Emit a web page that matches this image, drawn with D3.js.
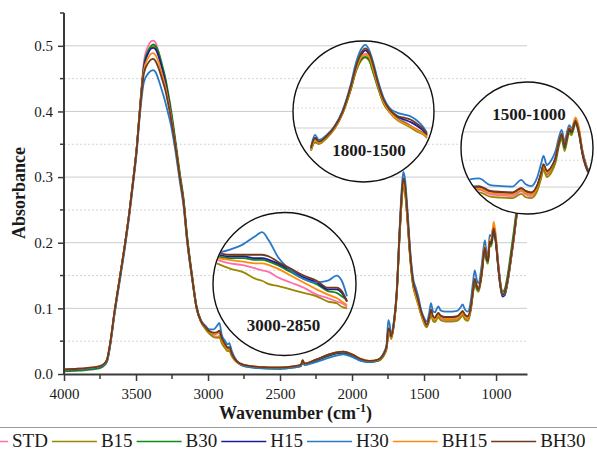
<!DOCTYPE html>
<html>
<head>
<meta charset="utf-8">
<script src="https://cdn.jsdelivr.net/npm/d3@7"></script>
<style>
  body { margin: 0; background: #fff; }
  text { font-family: "Liberation Serif", "Times New Roman", serif; fill: #1a1a1a; }
</style>
</head>
<body>
<svg id="chart" width="597" height="453"></svg>
<script>
// series + colours (legend order, also drawing order)
const seriesNames = ["STD", "B15", "B30", "H15", "H30", "BH15", "BH30"];
const seriesColors = ["#ff6fae", "#9a8700", "#128a12", "#1c1c9c", "#2878c8", "#ff8a10", "#70391c"];

// axis ticks
const xTicks = [4000, 3500, 3000, 2500, 2000, 1500, 1000];
const xMinor = [3750, 3250, 2750, 2250, 1750, 1250];
const yTicks = [0, 0.1, 0.2, 0.3, 0.4, 0.5];
const yMinor = [0.05, 0.15, 0.25, 0.35, 0.45, 0.55];

// main spectrum, wavenumber grid (cm-1)
const wn = [4000, 3900, 3800, 3750, 3720, 3700, 3680, 3650, 3610, 3575, 3545, 3520,
  3495, 3475, 3445, 3415, 3395, 3380, 3365, 3340, 3320, 3295, 3278, 3260, 3230, 3195, 3170, 3145, 3110, 3080, 3050,
  3020, 2990, 2960, 2935, 2921, 2905, 2880, 2865, 2852, 2835, 2800,
  2750, 2650, 2500, 2400, 2355, 2343, 2330, 2250, 2170, 2110, 2060, 2000, 1940, 1880, 1820, 1785,
  1760, 1748, 1738, 1728, 1710, 1690, 1670, 1655, 1644, 1632, 1615, 1595, 1575, 1555, 1540, 1520, 1500,
  1482, 1465, 1452, 1438, 1424, 1410, 1400, 1385, 1350, 1310, 1270, 1245, 1232, 1215, 1195, 1175, 1160, 1148, 1135, 1122,
  1100, 1078, 1065, 1056, 1044, 1034, 1016, 1000, 985, 970, 955, 940, 920, 900, 875, 850, 825, 800, 785];

const STD = [0.007, 0.008, 0.009, 0.011, 0.015, 0.022, 0.045, 0.093, 0.150, 0.200, 0.249, 0.296,
  0.345, 0.400, 0.476, 0.500, 0.507, 0.508, 0.505, 0.488, 0.470, 0.447, 0.425, 0.400, 0.355, 0.300, 0.262, 0.206, 0.146, 0.101, 0.080,
  0.070, 0.062, 0.058, 0.057, 0.058, 0.049, 0.040, 0.036, 0.036, 0.028, 0.018,
  0.013, 0.010, 0.009, 0.011, 0.013, 0.019, 0.015, 0.021, 0.028, 0.032, 0.033, 0.029, 0.022, 0.019, 0.021, 0.027,
  0.039, 0.062, 0.061, 0.054, 0.074, 0.120, 0.210, 0.266, 0.289, 0.279, 0.235, 0.175, 0.135, 0.119, 0.108, 0.092, 0.080,
  0.073, 0.082, 0.093, 0.083, 0.081, 0.086, 0.088, 0.084, 0.082, 0.082, 0.083, 0.088, 0.091, 0.085, 0.083, 0.099, 0.124, 0.141, 0.131, 0.127,
  0.151, 0.189, 0.173, 0.170, 0.198, 0.196, 0.218, 0.199, 0.164, 0.135, 0.121, 0.123, 0.142, 0.171, 0.211, 0.256, 0.296, 0.336, 0.356];
const B15 = [0.006, 0.007, 0.009, 0.011, 0.015, 0.022, 0.045, 0.093, 0.150, 0.200, 0.248, 0.295,
  0.345, 0.398, 0.468, 0.491, 0.498, 0.499, 0.497, 0.484, 0.467, 0.445, 0.424, 0.402, 0.357, 0.301, 0.264, 0.207, 0.147, 0.102, 0.080,
  0.069, 0.061, 0.056, 0.055, 0.056, 0.047, 0.039, 0.035, 0.035, 0.027, 0.018,
  0.013, 0.010, 0.009, 0.011, 0.013, 0.019, 0.015, 0.021, 0.028, 0.032, 0.033, 0.029, 0.022, 0.019, 0.020, 0.026,
  0.038, 0.060, 0.060, 0.053, 0.073, 0.118, 0.207, 0.263, 0.286, 0.276, 0.232, 0.172, 0.133, 0.116, 0.105, 0.090, 0.077,
  0.071, 0.080, 0.091, 0.081, 0.079, 0.084, 0.086, 0.082, 0.080, 0.080, 0.081, 0.086, 0.089, 0.083, 0.081, 0.097, 0.122, 0.139, 0.129, 0.125,
  0.149, 0.187, 0.171, 0.168, 0.196, 0.194, 0.216, 0.197, 0.163, 0.135, 0.121, 0.123, 0.142, 0.171, 0.211, 0.256, 0.296, 0.336, 0.356];
const B30 = [0.004, 0.005, 0.007, 0.009, 0.013, 0.020, 0.044, 0.092, 0.150, 0.200, 0.248, 0.295,
  0.345, 0.398, 0.470, 0.493, 0.500, 0.502, 0.500, 0.488, 0.472, 0.450, 0.430, 0.407, 0.362, 0.305, 0.268, 0.211, 0.150, 0.104, 0.082,
  0.072, 0.064, 0.061, 0.062, 0.064, 0.053, 0.043, 0.039, 0.039, 0.030, 0.019,
  0.012, 0.009, 0.008, 0.010, 0.012, 0.019, 0.014, 0.020, 0.027, 0.031, 0.032, 0.028, 0.021, 0.018, 0.020, 0.027,
  0.040, 0.063, 0.062, 0.055, 0.075, 0.120, 0.210, 0.265, 0.290, 0.280, 0.235, 0.175, 0.135, 0.118, 0.108, 0.092, 0.080,
  0.074, 0.083, 0.095, 0.085, 0.083, 0.088, 0.090, 0.086, 0.084, 0.084, 0.085, 0.090, 0.093, 0.087, 0.085, 0.100, 0.125, 0.142, 0.132, 0.128,
  0.152, 0.190, 0.174, 0.171, 0.199, 0.197, 0.220, 0.200, 0.167, 0.139, 0.125, 0.129, 0.150, 0.180, 0.220, 0.265, 0.305, 0.345, 0.365];
const H15 = [0.006, 0.007, 0.009, 0.011, 0.015, 0.022, 0.045, 0.093, 0.150, 0.200, 0.248, 0.294,
  0.344, 0.397, 0.467, 0.489, 0.496, 0.497, 0.495, 0.482, 0.466, 0.444, 0.423, 0.400, 0.356, 0.300, 0.263, 0.206, 0.147, 0.102, 0.081,
  0.072, 0.065, 0.062, 0.063, 0.065, 0.054, 0.044, 0.040, 0.040, 0.030, 0.019,
  0.013, 0.010, 0.009, 0.011, 0.013, 0.020, 0.015, 0.021, 0.028, 0.032, 0.033, 0.029, 0.022, 0.019, 0.021, 0.028,
  0.041, 0.068, 0.066, 0.057, 0.076, 0.122, 0.213, 0.271, 0.295, 0.285, 0.240, 0.178, 0.139, 0.122, 0.111, 0.094, 0.082,
  0.074, 0.084, 0.097, 0.087, 0.085, 0.090, 0.092, 0.088, 0.086, 0.086, 0.087, 0.092, 0.095, 0.089, 0.087, 0.102, 0.127, 0.144, 0.134, 0.129,
  0.154, 0.192, 0.176, 0.173, 0.201, 0.199, 0.220, 0.198, 0.162, 0.133, 0.118, 0.120, 0.139, 0.168, 0.208, 0.253, 0.293, 0.333, 0.353];
const H30 = [0.006, 0.007, 0.009, 0.011, 0.014, 0.020, 0.042, 0.089, 0.145, 0.195, 0.243, 0.289,
  0.338, 0.390, 0.445, 0.458, 0.462, 0.463, 0.460, 0.446, 0.432, 0.413, 0.398, 0.382, 0.345, 0.292, 0.256, 0.201, 0.144, 0.101, 0.082,
  0.074, 0.068, 0.068, 0.074, 0.078, 0.060, 0.050, 0.045, 0.047, 0.035, 0.020,
  0.012, 0.009, 0.008, 0.010, 0.012, 0.019, 0.014, 0.018, 0.024, 0.028, 0.030, 0.026, 0.020, 0.018, 0.021, 0.030,
  0.045, 0.082, 0.075, 0.060, 0.080, 0.126, 0.220, 0.282, 0.308, 0.297, 0.250, 0.186, 0.145, 0.130, 0.118, 0.098, 0.086,
  0.080, 0.092, 0.108, 0.096, 0.094, 0.100, 0.103, 0.097, 0.095, 0.095, 0.096, 0.102, 0.106, 0.098, 0.095, 0.112, 0.140, 0.158, 0.145, 0.138,
  0.165, 0.204, 0.185, 0.182, 0.212, 0.210, 0.226, 0.205, 0.170, 0.140, 0.120, 0.122, 0.140, 0.170, 0.210, 0.255, 0.295, 0.335, 0.355];
const BH15 = [0.007, 0.008, 0.010, 0.012, 0.016, 0.023, 0.046, 0.094, 0.151, 0.201, 0.249, 0.295,
  0.344, 0.397, 0.463, 0.482, 0.488, 0.489, 0.486, 0.473, 0.457, 0.437, 0.418, 0.397, 0.354, 0.299, 0.262, 0.205, 0.146, 0.101, 0.080,
  0.071, 0.064, 0.061, 0.062, 0.063, 0.052, 0.043, 0.038, 0.038, 0.029, 0.018,
  0.014, 0.011, 0.010, 0.012, 0.014, 0.021, 0.016, 0.022, 0.029, 0.033, 0.034, 0.030, 0.023, 0.020, 0.021, 0.028,
  0.040, 0.064, 0.062, 0.055, 0.075, 0.121, 0.212, 0.268, 0.291, 0.281, 0.236, 0.176, 0.136, 0.118, 0.107, 0.091, 0.079,
  0.074, 0.083, 0.095, 0.085, 0.083, 0.088, 0.090, 0.086, 0.084, 0.084, 0.085, 0.090, 0.093, 0.087, 0.085, 0.101, 0.127, 0.145, 0.135, 0.130,
  0.156, 0.195, 0.178, 0.176, 0.205, 0.203, 0.232, 0.208, 0.168, 0.137, 0.122, 0.124, 0.142, 0.170, 0.210, 0.255, 0.295, 0.335, 0.355];
const BH30 = [0.007, 0.008, 0.010, 0.012, 0.016, 0.023, 0.046, 0.094, 0.150, 0.200, 0.248, 0.294,
  0.343, 0.396, 0.458, 0.474, 0.479, 0.480, 0.477, 0.464, 0.450, 0.431, 0.413, 0.393, 0.352, 0.298, 0.261, 0.205, 0.146, 0.101, 0.081,
  0.072, 0.065, 0.063, 0.064, 0.066, 0.055, 0.045, 0.040, 0.041, 0.031, 0.019,
  0.014, 0.011, 0.010, 0.012, 0.014, 0.021, 0.016, 0.022, 0.029, 0.033, 0.034, 0.030, 0.023, 0.020, 0.022, 0.029,
  0.042, 0.070, 0.067, 0.057, 0.077, 0.123, 0.215, 0.274, 0.298, 0.288, 0.243, 0.180, 0.140, 0.124, 0.112, 0.095, 0.083,
  0.075, 0.085, 0.098, 0.088, 0.086, 0.091, 0.093, 0.089, 0.087, 0.087, 0.088, 0.093, 0.096, 0.090, 0.088, 0.103, 0.128, 0.145, 0.135, 0.130,
  0.155, 0.193, 0.177, 0.174, 0.202, 0.200, 0.222, 0.201, 0.165, 0.136, 0.121, 0.124, 0.143, 0.172, 0.212, 0.257, 0.297, 0.337, 0.357];
const mainValues = [STD, B15, B30, H15, H30, BH15, BH30];

// zoomed insets (magnified readings), rows in seriesNames order
const wnCH = [3000, 2985, 2970, 2955, 2948, 2940, 2930, 2915, 2900, 2885, 2872, 2862, 2856, 2850];
const insetCH = [
  [0.066, 0.064, 0.063, 0.061, 0.060, 0.059, 0.056, 0.053, 0.050, 0.046, 0.044, 0.042, 0.041, 0.039],
  [0.064, 0.061, 0.059, 0.055, 0.054, 0.052, 0.051, 0.049, 0.047, 0.045, 0.042, 0.041, 0.039, 0.038],
  [0.068, 0.067, 0.067, 0.066, 0.066, 0.065, 0.063, 0.059, 0.055, 0.052, 0.048, 0.047, 0.045, 0.043],
  [0.069, 0.068, 0.068, 0.067, 0.067, 0.066, 0.064, 0.060, 0.056, 0.053, 0.049, 0.049, 0.047, 0.042],
  [0.070, 0.072, 0.075, 0.080, 0.082, 0.077, 0.068, 0.060, 0.055, 0.053, 0.054, 0.057, 0.054, 0.045],
  [0.067, 0.066, 0.065, 0.064, 0.064, 0.063, 0.061, 0.057, 0.053, 0.049, 0.046, 0.044, 0.042, 0.040],
  [0.070, 0.069, 0.069, 0.069, 0.069, 0.068, 0.065, 0.061, 0.057, 0.054, 0.050, 0.050, 0.048, 0.042]
];
const wnAmide = [1800, 1790, 1780, 1760, 1740, 1720, 1700, 1685, 1672, 1662, 1652, 1642, 1630, 1615, 1600, 1580, 1560, 1545, 1530, 1515, 1505];
const insetAmide = [
  [0.050, 0.070, 0.066, 0.081, 0.104, 0.141, 0.199, 0.251, 0.280, 0.288, 0.279, 0.249, 0.210, 0.168, 0.146, 0.128, 0.119, 0.110, 0.101, 0.093, 0.084],
  [0.048, 0.069, 0.065, 0.080, 0.103, 0.140, 0.196, 0.248, 0.274, 0.281, 0.273, 0.244, 0.206, 0.165, 0.144, 0.124, 0.113, 0.105, 0.096, 0.089, 0.080],
  [0.050, 0.071, 0.068, 0.083, 0.105, 0.142, 0.198, 0.250, 0.277, 0.283, 0.275, 0.246, 0.208, 0.167, 0.146, 0.127, 0.117, 0.108, 0.100, 0.093, 0.085],
  [0.054, 0.079, 0.070, 0.084, 0.106, 0.144, 0.203, 0.256, 0.288, 0.299, 0.288, 0.258, 0.214, 0.173, 0.150, 0.133, 0.125, 0.119, 0.110, 0.099, 0.088],
  [0.058, 0.088, 0.075, 0.088, 0.110, 0.148, 0.210, 0.270, 0.303, 0.313, 0.300, 0.270, 0.225, 0.180, 0.155, 0.143, 0.138, 0.133, 0.123, 0.108, 0.093],
  [0.050, 0.073, 0.068, 0.083, 0.105, 0.143, 0.200, 0.253, 0.283, 0.291, 0.283, 0.253, 0.211, 0.169, 0.146, 0.126, 0.115, 0.108, 0.099, 0.091, 0.083],
  [0.055, 0.081, 0.071, 0.085, 0.108, 0.145, 0.205, 0.260, 0.293, 0.304, 0.293, 0.263, 0.218, 0.175, 0.151, 0.135, 0.130, 0.125, 0.115, 0.103, 0.090]
];
const wnFinger = [1500, 1450, 1400, 1350, 1300, 1260, 1240, 1215, 1190, 1170, 1160, 1145, 1125, 1105, 1090, 1078, 1065, 1052, 1044, 1034, 1016, 1000, 985, 970, 955, 940, 925, 910];
const insetFinger = [
  [0.077, 0.078, 0.069, 0.067, 0.065, 0.075, 0.069, 0.065, 0.079, 0.107, 0.124, 0.109, 0.119, 0.140, 0.174, 0.188, 0.163, 0.188, 0.200, 0.195, 0.218, 0.195, 0.155, 0.129, 0.115, 0.120, 0.133, 0.144],
  [0.071, 0.073, 0.064, 0.062, 0.061, 0.070, 0.063, 0.061, 0.074, 0.103, 0.120, 0.105, 0.114, 0.136, 0.170, 0.184, 0.159, 0.184, 0.197, 0.192, 0.215, 0.193, 0.153, 0.127, 0.113, 0.118, 0.131, 0.143],
  [0.080, 0.081, 0.073, 0.071, 0.070, 0.078, 0.072, 0.070, 0.082, 0.109, 0.126, 0.112, 0.122, 0.143, 0.176, 0.190, 0.165, 0.190, 0.202, 0.197, 0.220, 0.199, 0.159, 0.132, 0.119, 0.126, 0.143, 0.157],
  [0.082, 0.084, 0.075, 0.073, 0.072, 0.081, 0.075, 0.072, 0.085, 0.113, 0.130, 0.115, 0.124, 0.145, 0.178, 0.193, 0.168, 0.193, 0.204, 0.199, 0.220, 0.197, 0.155, 0.128, 0.114, 0.118, 0.131, 0.142],
  [0.099, 0.102, 0.088, 0.086, 0.085, 0.099, 0.090, 0.086, 0.102, 0.134, 0.149, 0.130, 0.140, 0.160, 0.189, 0.203, 0.179, 0.203, 0.213, 0.207, 0.225, 0.203, 0.161, 0.134, 0.118, 0.123, 0.137, 0.147],
  [0.079, 0.081, 0.072, 0.070, 0.069, 0.078, 0.072, 0.069, 0.082, 0.110, 0.128, 0.113, 0.123, 0.146, 0.181, 0.195, 0.170, 0.197, 0.208, 0.202, 0.229, 0.207, 0.161, 0.132, 0.118, 0.121, 0.134, 0.145],
  [0.084, 0.086, 0.076, 0.074, 0.073, 0.082, 0.076, 0.073, 0.086, 0.115, 0.132, 0.118, 0.126, 0.147, 0.180, 0.195, 0.170, 0.195, 0.206, 0.200, 0.222, 0.199, 0.157, 0.130, 0.117, 0.120, 0.134, 0.145]
];

const svg = d3.select("#chart");
svg.append("rect").attr("width", 597).attr("height", 453).attr("fill", "#fff");

const x = d3.scaleLinear().domain([4000, 785]).range([64, 527]);
const y = d3.scaleLinear().domain([0, 0.55]).range([374, 13]);

// grid
svg.append("g").selectAll("line").data(yTicks.slice(1)).join("line")
  .attr("x1", 64).attr("x2", 527).attr("y1", d => y(d)).attr("y2", d => y(d))
  .attr("stroke", "#cccccc").attr("stroke-width", 1);
svg.append("g").selectAll("line").data(yMinor.slice(0, 5)).join("line")
  .attr("x1", 64).attr("x2", 527).attr("y1", d => y(d)).attr("y2", d => y(d))
  .attr("stroke", "#d4d4d4").attr("stroke-width", 1).attr("stroke-dasharray", "2,2");

// spectra
svg.append("clipPath").attr("id", "plotclip").append("rect")
  .attr("x", 64).attr("y", 8).attr("width", 463).attr("height", 366);
const mainLine = d3.line().x(d => x(d[0])).y(d => y(d[1])).curve(d3.curveMonotoneX);
svg.append("g").attr("clip-path", "url(#plotclip)")
  .selectAll("path").data(mainValues).join("path")
  .attr("d", vals => mainLine(vals.map((v, i) => [wn[i], v])))
  .attr("fill", "none")
  .attr("stroke", (d, i) => seriesColors[i])
  .attr("stroke-width", 1.8)
  .attr("stroke-linejoin", "round");

// axes
const axisColor = "#3a3a3a";
const gx = svg.append("g").attr("transform", "translate(0,374)")
  .call(d3.axisBottom(x).tickValues(xTicks).tickSize(7).tickSizeOuter(0).tickPadding(7).tickFormat(d3.format("d")));
gx.selectAll(".tick").append("line").remove();
svg.append("g").attr("transform", "translate(0,374)").selectAll("line").data(xMinor).join("line")
  .attr("x1", d => x(d)).attr("x2", d => x(d)).attr("y1", 0).attr("y2", 5)
  .attr("stroke", axisColor).attr("stroke-width", 1.5);
const gy = svg.append("g").attr("transform", "translate(64,0)")
  .call(d3.axisLeft(y).tickValues(yTicks).tickSize(6).tickSizeOuter(0).tickPadding(5).tickFormat(d3.format(".1f")));
svg.append("g").attr("transform", "translate(64,0)").selectAll("line").data(yMinor).join("line")
  .attr("x1", -4).attr("x2", 0).attr("y1", d => y(d)).attr("y2", d => y(d))
  .attr("stroke", axisColor).attr("stroke-width", 1.5);
[gx, gy].forEach(g => {
  g.select(".domain").attr("stroke", axisColor).attr("stroke-width", 2);
  g.selectAll(".tick line").attr("stroke", axisColor).attr("stroke-width", 1.5);
  g.selectAll(".tick text").attr("font-family", "Liberation Serif, Times New Roman, serif")
    .attr("font-size", 15).attr("fill", "#1a1a1a");
});
// stretch y domain up to 0.55
gy.select(".domain").attr("d", `M0,${y(0)}V${y(0.55)}`);

// axis titles
const xt = svg.append("text").attr("x", 295.5).attr("y", 419).attr("text-anchor", "middle")
  .attr("font-size", 18).attr("font-weight", "bold");
xt.append("tspan").text("Wavenumber (cm");
xt.append("tspan").text("-1").attr("font-size", 12).attr("dy", -7);
xt.append("tspan").text(")").attr("dy", 7);
svg.append("text").attr("transform", "translate(25,193) rotate(-90)").attr("text-anchor", "middle")
  .attr("font-size", 18).attr("font-weight", "bold").text("Absorbance");

// insets
function drawInset(o) {
  const clipId = "clip-" + o.id;
  svg.append("clipPath").attr("id", clipId).append("circle")
    .attr("cx", o.cx).attr("cy", o.cy).attr("r", o.r - 0.5);
  const g = svg.append("g");
  g.append("circle").attr("cx", o.cx).attr("cy", o.cy).attr("r", o.r).attr("fill", "#fff");
  const ix = d3.scaleLinear().domain(o.xDomain).range(o.xRange);
  const iy = d3.scaleLinear().domain(o.yDomain).range(o.yRange);
  const inner = g.append("g").attr("clip-path", `url(#${clipId})`);
  inner.selectAll("line.solid").data(o.gridSolid).join("line")
    .attr("x1", o.cx - o.r).attr("x2", o.cx + o.r).attr("y1", d => iy(d)).attr("y2", d => iy(d))
    .attr("stroke", "#d0d0d0").attr("stroke-width", 1);
  inner.selectAll("line.dot").data(o.gridDot).join("line")
    .attr("x1", o.cx - o.r).attr("x2", o.cx + o.r).attr("y1", d => iy(d)).attr("y2", d => iy(d))
    .attr("stroke", "#dadada").attr("stroke-width", 1).attr("stroke-dasharray", "2,2");
  const ln = d3.line().x(d => ix(d[0])).y(d => iy(d[1])).curve(d3.curveMonotoneX);
  inner.selectAll("path").data(o.values).join("path")
    .attr("d", vals => ln(vals.map((v, i) => [o.wn[i], v])))
    .attr("fill", "none")
    .attr("stroke", (d, i) => seriesColors[i])
    .attr("stroke-width", 1.8);
  g.append("circle").attr("cx", o.cx).attr("cy", o.cy).attr("r", o.r)
    .attr("fill", "none").attr("stroke", "#111").attr("stroke-width", 1.4);
  g.append("text").attr("x", o.lx).attr("y", o.ly).attr("text-anchor", "middle")
    .attr("font-size", 17).attr("font-weight", "bold").attr("fill", "#111").text(o.label);
}

drawInset({ id: "ch", cx: 284.5, cy: 284, r: 71.5, wn: wnCH, values: insetCH,
  xDomain: [3000, 2850], xRange: [217, 347], yDomain: [0.04, 0.07], yRange: [305, 253],
  gridSolid: [0.076, 0.038], gridDot: [0.060], label: "3000-2850", lx: 283.5, ly: 331 });
drawInset({ id: "amide", cx: 363.5, cy: 111.5, r: 70.5, wn: wnAmide, values: insetAmide,
  xDomain: [1800, 1505], xRange: [311, 427], yDomain: [0.05, 0.30], yRange: [150, 50],
  gridSolid: [0.105, 0.205], gridDot: [0.155, 0.255], label: "1800-1500", lx: 369, ly: 156 });
drawInset({ id: "finger", cx: 527, cy: 148, r: 66, wn: wnFinger, values: insetFinger,
  xDomain: [1500, 910], xRange: [468, 599], yDomain: [0.08, 0.20], yRange: [189, 131.4],
  gridSolid: [0.084, 0.199], gridDot: [0.140], label: "1500-1000", lx: 529, ly: 120 });

// legend
svg.append("line").attr("x1", 0).attr("x2", 597).attr("y1", 427.5).attr("y2", 427.5)
  .attr("stroke", "#9a9a9a").attr("stroke-width", 1);
const legend = svg.append("g");
let cursor = -37;
seriesNames.forEach((name, i) => {
  legend.append("line").attr("x1", cursor).attr("x2", cursor + 45).attr("y1", 441.5).attr("y2", 441.5)
    .attr("stroke", seriesColors[i]).attr("stroke-width", 1.6);
  const t = legend.append("text").attr("x", cursor + 49).attr("y", 446.5)
    .attr("font-size", 19).text(name);
  cursor += 49 + t.node().getComputedTextLength() + 4;
});
</script>
</body>
</html>
